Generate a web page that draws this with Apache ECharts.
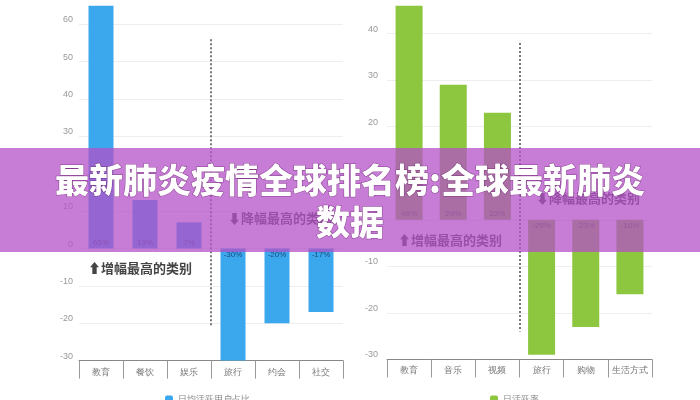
<!DOCTYPE html>
<html>
<head>
<meta charset="utf-8">
<script src="https://cdn.jsdelivr.net/npm/echarts@6/dist/echarts.min.js"></script>
<style>
  html, body { margin: 0; padding: 0; background: #fff; overflow: hidden; }
  /* 原图上方被裁掉一截，所以整个图表往上移 22px */
  #main { position: absolute; left: 0; top: -22px; width: 700px; height: 422px; }
</style>
</head>
<body>
<div id="main"></div>
<script>
// 左图：类别与增降幅
var leftCategories = ['教育', '餐饮', '娱乐', '旅行', '约会', '社交'];
var leftValues = [65, 13, 7, -30, -20, -17];
// 右图
var rightCategories = ['教育', '音乐', '视频', '旅行', '购物', '生活方式'];
var rightValues = [46, 29, 23, -29, -23, -16];
// 分隔虚线（位于第3、4类之间）的上下端数值
var leftDivider = [2.5, 56, -21];
var rightDivider = [2.5, 38, -24];
var leftName = '日均活跃用户占比';
var rightName = '日活跃率';

var myChart = echarts.init(document.getElementById('main'));

function barData(values) {
	return values.map(function (v) {
		return {
			value: v,
			label: { position: v >= 0 ? 'insideBottom' : 'insideTop' }
		};
	});
}

function dividerLine(d) {
	return {
		symbol: 'none',
		silent: true,
		label: { show: false },
		lineStyle: { color: '#777', type: [2, 2], width: 2 },
		data: [[{ coord: [d[0], d[1]] }, { coord: [d[0], d[2]] }]]
	};
}

var catAxis = {
	type: 'category',
	axisLine: { onZero: false, lineStyle: { color: '#888' } },
	axisTick: { show: true, length: 18, lineStyle: { color: '#999', width: 1 } },
	axisLabel: { color: '#777', fontSize: 9, margin: 7, interval: 0 }
};
var valAxis = {
	type: 'value',
	interval: 10,
	min: -30,
	axisLine: { show: false },
	axisTick: { show: false },
	splitLine: { lineStyle: { color: '#eee' } }
};

var labelStyle = { show: true, fontSize: 8, formatter: '{c}%', distance: 2 };
var noteFont = 'bold 13px "Noto Sans CJK SC"';

option = {
	backgroundColor: '#fff',
	animation: false,
	legend: [
		{ left: 160, top: 412, itemWidth: 8, itemHeight: 8, data: [leftName], textStyle: { fontSize: 9, color: '#888' } },
		{ left: 485, top: 412, itemWidth: 8, itemHeight: 8, data: [rightName], textStyle: { fontSize: 9, color: '#888' } }
	],
	grid: [
		{ left: 79, width: 264, top: 0.6, height: 382 },
		{ left: 387, width: 265, top: 1.5, height: 380 }
	],
	xAxis: [
		Object.assign({ gridIndex: 0, data: leftCategories }, catAxis),
		Object.assign({ gridIndex: 1, data: rightCategories }, catAxis),
		{ type: 'value', gridIndex: 0, min: -0.5, max: 5.5, show: false },
		{ type: 'value', gridIndex: 1, min: -0.5, max: 5.5, show: false }
	],
	yAxis: [
		Object.assign({ gridIndex: 0, max: 70 }, valAxis, { axisLabel: { color: '#999', fontSize: 9, verticalAlign: 'bottom', margin: 6 } }),
		Object.assign({ gridIndex: 1, max: 50 }, valAxis, { axisLabel: { color: '#999', fontSize: 9, verticalAlign: 'bottom', margin: 9 } })
	],
	series: [
		{
			name: leftName,
			type: 'bar',
			xAxisIndex: 0,
			yAxisIndex: 0,
			barWidth: 25,
			itemStyle: { color: '#3ba8ee' },
			label: Object.assign({ color: '#1f4a78' }, labelStyle),
			data: barData(leftValues)
		},
		{
			name: rightName,
			type: 'bar',
			xAxisIndex: 1,
			yAxisIndex: 1,
			barWidth: 27,
			itemStyle: { color: '#8dc63f' },
			label: Object.assign({ color: '#4d6a20' }, labelStyle),
			data: barData(rightValues)
		},
		{
			type: 'line',
			xAxisIndex: 2,
			yAxisIndex: 0,
			data: [],
			markLine: dividerLine(leftDivider)
		},
		{
			type: 'line',
			xAxisIndex: 3,
			yAxisIndex: 1,
			data: [],
			markLine: dividerLine(rightDivider)
		}
	],
	graphic: [
		{ type: 'text', left: 88, top: 284, z: 10, style: { text: '⬆增幅最高的类别', font: noteFont, fill: '#444' } },
		{ type: 'text', left: 228, top: 234, z: 10, style: { text: '⬇降幅最高的类别', font: noteFont, fill: '#444' } },
		{ type: 'text', left: 398, top: 256, z: 10, style: { text: '⬆增幅最高的类别', font: noteFont, fill: '#444' } },
		{ type: 'text', left: 536, top: 214, z: 10, style: { text: '⬇降幅最高的类别', font: noteFont, fill: '#444' } },
		{
			type: 'rect', left: 0, top: 170, z: 100,
			shape: { width: 700, height: 104 },
			style: { fill: 'rgba(180,80,200,0.75)' }
		},
		{
			type: 'text', x: 350, y: 181, z: 101,
			style: {
				text: '最新肺炎疫情全球排名榜:全球最新肺炎\n数据',
				font: '900 34px "Noto Sans CJK SC"',
				fill: '#fff',
				align: 'center',
				verticalAlign: 'top',
				lineHeight: 42,
				stroke: 'rgba(90,20,90,0.6)',
				lineWidth: 1
			}
		}
	]
};

myChart.setOption(option);
</script>
</body>
</html>
